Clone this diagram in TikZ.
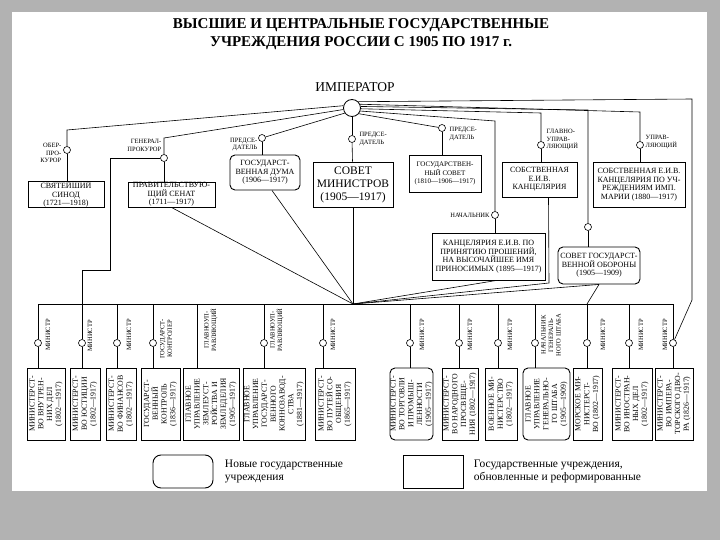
\documentclass[tikz,border=0pt]{standalone}
\usepackage{fontspec}
\setmainfont{Liberation Serif}
\usetikzlibrary{calc,positioning}

\tikzset{
  box/.style={draw, line width=0.9pt, align=center, inner sep=0.5pt, font=\fontsize{8}{8.5}\selectfont},
  newbox/.style={box, rounded corners=5pt},
  vbox/.style={box, rotate=90, minimum width=72pt, font=\fontsize{7.8}{8.8}\selectfont},
  post/.style={circle, draw, fill=white, line width=0.6pt, inner sep=0pt, minimum size=7pt},
  lab/.style={align=center, inner sep=0.5pt, font=\fontsize{6.5}{7.5}\selectfont},
  vlab/.style={lab, rotate=90},
  link/.style={line width=0.6pt},
}

\begin{document}
\begin{tikzpicture}[x=1pt,y=-1pt]
		%%%%% START %%%%%
		\useasboundingbox (0,0) rectangle (720,540);
		\fill[black!30] (0,0) rectangle (12,540);
		\fill[black!30] (707,0) rectangle (720,540);
		\fill[black!30] (0,0) rectangle (720,12);
		\fill[black!30] (0,491) rectangle (720,540);
		
		\node[font=\fontsize{15}{18.5}\selectfont\bfseries, align=center] (title) at (361,34) {ВЫСШИЕ И ЦЕНТРАЛЬНЫЕ ГОСУДАРСТВЕННЫЕ\\УЧРЕЖДЕНИЯ РОССИИ С 1905 ПО 1917 г.};
		\node[font=\fontsize{13.5}{15}\selectfont] (imp) at (355,87) {ИМПЕРАТОР};
		\node[circle, draw, line width=0.8pt, minimum size=17pt, inner sep=0pt] (emp) at (352,108) {};
		
		% upper row
		\node[box, minimum width=76pt, minimum height=25pt] (syn) at (66,194.5) {СВЯТЕЙШИЙ\\СИНОД\\(1721—1918)};
		\node[box, minimum width=87pt, minimum height=25pt] (sen) at (171.5,194.5) {ПРАВИТЕЛЬСТВУЮ-\\ЩИЙ СЕНАТ\\(1711—1917)};
		\node[newbox, minimum width=70pt, minimum height=35pt] (duma) at (265,172.5) {ГОСУДАРСТ-\\ВЕННАЯ ДУМА\\(1906—1917)};
		\node[box, minimum width=80pt, minimum height=45pt, font=\fontsize{11.5}{13}\selectfont] (sovmin) at (353,184.5) {СОВЕТ\\МИНИСТРОВ\\(1905—1917)};
		\node[box, minimum width=72pt, minimum height=37pt, font=\fontsize{7}{8.5}\selectfont] (gossov) at (445,173.5) {ГОСУДАРСТВЕН-\\НЫЙ СОВЕТ\\(1810—1906—1917)};
		\node[box, minimum width=75pt, minimum height=35pt] (sobk) at (539.5,179.5) {СОБСТВЕННАЯ\\Е.И.В.\\КАНЦЕЛЯРИЯ};
		\node[box, minimum width=92pt, minimum height=45pt] (mar) at (639,184.5) {СОБСТВЕННАЯ Е.И.В.\\КАНЦЕЛЯРИЯ ПО УЧ-\\РЕЖДЕНИЯМ ИМП.\\МАРИИ (1880—1917)};
		\node[box, minimum width=113pt, minimum height=47pt] (kanpr) at (488.5,256.5) {КАНЦЕЛЯРИЯ Е.И.В. ПО\\ПРИНЯТИЮ ПРОШЕНИЙ,\\НА ВЫСОЧАЙШЕЕ ИМЯ\\ПРИНОСИМЫХ (1895—1917)};
		\node[newbox, minimum width=82pt, minimum height=37pt] (sovob) at (599,265.5) {СОВЕТ ГОСУДАРСТ-\\ВЕННОЙ ОБОРОНЫ\\(1905—1909)};
		
		\node[post] (ob) at (67,150) {};
		\node[post] (gp) at (164,158) {};
		\node[post] (dum) at (262,138) {};
		\node[post] (sm) at (352,139) {};
		\node[post] (gs) at (442,128) {};
		\node[post] (nach) at (495,215) {};
		\node[post] (gu) at (541,145) {};
		\node[post] (so) at (588,227) {};
		\node[post] (up) at (640,145) {};
		
		\node[lab, align=right, anchor=east] (lob) at (62,153) {ОБЕР-\\ПРО-\\КУРОР};
		\node[lab, align=right, anchor=east] (lgp) at (162,145.5) {ГЕНЕРАЛ-\\ПРОКУРОР};
		\node[lab, align=right, anchor=east] (ldum) at (258,144.5) {ПРЕДСЕ-\\ДАТЕЛЬ};
		\node[lab, align=left, right=3pt of sm] (lsm) {ПРЕДСЕ-\\ДАТЕЛЬ};
		\node[lab, align=left, anchor=west] (lgs) at (449,134) {ПРЕДСЕ-\\ДАТЕЛЬ};
		\node[lab, left=1pt of nach] (lnach) {НАЧАЛЬНИК};
		\node[lab, align=left, anchor=west] (lgu) at (546,140) {ГЛАВНО-\\УПРАВ-\\ЛЯЮЩИЙ};
		\node[lab, align=left, anchor=west] (lup) at (645,142) {УПРАВ-\\ЛЯЮЩИЙ};
		
		% lines from the emperor
		\draw[link] (emp.165) -- (67,130) -- (ob);
		\draw[link] (ob) -- (ob |- syn.north);
		\draw[link] (emp.190) -- (164,138) -- (gp);
		\draw[link] (gp) -- (gp |- sen.north);
		\draw[link] (emp.215) -- (dum);
		\draw[link] (dum) -- (dum |- duma.north);
		\draw[link] (emp) -- (sm);
		\draw[link] (sm) -- (sovmin);
		\draw[link] (emp.-40) -- (gs);
		\draw[link] (gs) -- (gs |- gossov.north);
		\draw[link] (emp.-20) -- (495,121) -- (nach);
		\draw[link] (nach) -- (nach |- kanpr.north);
		\draw[link] (emp.-5) -- (541,113) -- (gu);
		\draw[link] (gu) -- (gu |- sobk.north);
		\draw[link] (emp.10) -- (588,110) -- (so);
		\draw[link] (so) -- (so |- sovob.north);
		\draw[link] (emp.25) -- (640,112) -- (up);
		\draw[link] (up) -- (up |- mar.north);
		
		% ministries
		\node[vbox, minimum height=38pt] (m1) at (46,404) {МИНИСТЕРСТ-\\ВО ВНУТРЕН-\\НИХ ДЕЛ\\(1802—1917)};
		\node[vbox, minimum height=30pt] (m2) at (85,404) {МИНИСТЕРСТ-\\ВО ЮСТИЦИИ\\(1802—1917)};
		\node[vbox, minimum height=30pt] (m3) at (121,404) {МИНИСТЕРСТ-\\ВО ФИНАНСОВ\\(1802—1917)};
		\node[vbox, minimum height=39pt] (m4) at (160.5,404) {ГОСУДАРСТ-\\ВЕННЫЙ\\КОНТРОЛЬ\\(1836—1917)};
		\node[vbox, minimum height=56pt] (m5) at (211,404) {ГЛАВНОЕ\\УПРАВЛЕНИЕ\\ЗЕМЛЕУСТ-\\РОЙСТВА И\\ЗЕМЛЕДЕЛИЯ\\(1905—1917)};
		\node[vbox, minimum height=62pt] (m6) at (274,404) {ГЛАВНОЕ\\УПРАВЛЕНИЕ\\ГОСУДАРСТ-\\ВЕННОГО\\КОННОЗАВОД-\\СТВА\\(1881—1917)};
		\node[vbox, minimum height=40pt] (m7) at (335,404) {МИНИСТЕРСТ-\\ВО ПУТЕЙ СО-\\ОБЩЕНИЯ\\(1865—1917)};
		\node[vbox, rounded corners=5pt, minimum height=43pt] (m8) at (411.5,404) {МИНИСТЕРСТ-\\ВО ТОРГОВЛИ\\И ПРОМЫШ-\\ЛЕННОСТИ\\(1905—1917)};
		\node[vbox, minimum height=36pt] (m9) at (460,404) {МИНИСТЕРСТ-\\ВО НАРОДНОГО\\ПРОСВЕЩЕ-\\НИЯ (1802—1917)};
		\node[vbox, minimum height=32pt] (m10) at (501,404) {ВОЕННОЕ МИ-\\НИСТЕРСТВО\\(1802—1917)};
		\node[vbox, rounded corners=5pt, minimum height=47pt] (m11) at (546.5,404) {ГЛАВНОЕ\\УПРАВЛЕНИЕ\\ГЕНЕРАЛЬНО-\\ГО ШТАБА\\(1905—1909)};
		\node[vbox, minimum height=29pt] (m12) at (587.5,404) {МОРСКОЕ МИ-\\НИСТЕРСТ-\\ВО (1802—1917)};
		\node[vbox, minimum height=40pt] (m13) at (632,404) {МИНИСТЕРСТ-\\ВО ИНОСТРАН-\\НЫХ ДЕЛ\\(1802—1917)};
		\node[vbox, minimum height=38pt] (m14) at (674,404) {МИНИСТЕРСТ-\\ВО ИМПЕРА-\\ТОРСКОГО ДВО-\\РА (1826—1917)};
		
		\node[post] (p1) at (38,343) {};
		\node[post] (p2) at (82,343) {};
		\node[post] (p3) at (117,343) {};
		\node[post] (p4) at (153,343) {};
		\node[post] (p6) at (264,343) {};
		\node[post] (p7) at (323,343) {};
		\node[post] (p8) at (410,343) {};
		\node[post] (p9) at (459,343) {};
		\node[post] (p10) at (498,343) {};
		\node[post] (p11) at (535,343) {};
		\node[post] (p12) at (587,343) {};
		\node[post] (p13) at (629,343) {};
		\node[post] (p14) at (673,343) {};
		
		\node[vlab] at (48,335) {МИНИСТР};
		\node[vlab] at (90,336) {МИНИСТР};
		\node[vlab] at (129,335) {МИНИСТР};
		\node[vlab] at (166,339) {ГОСУДАРСТ-\\КОНТРОЛЕР};
		\node[vlab] at (211,330) {ГЛАВНОУП-\\РАВЛЯЮЩИЙ};
		\node[vlab] at (277,330) {ГЛАВНОУП-\\РАВЛЯЮЩИЙ};
		\node[vlab] at (333,335) {МИНИСТР};
		\node[vlab] at (422,335) {МИНИСТР};
		\node[vlab] at (470,335) {МИНИСТР};
		\node[vlab] at (510,335) {МИНИСТР};
		\node[vlab] at (551,335) {НАЧАЛЬНИК\\ГЕНЕРАЛЬ-\\НОГО ШТАБА};
		\node[vlab] at (603,335) {МИНИСТР};
		\node[vlab] at (641,335) {МИНИСТР};
		\node[vlab] at (665,335) {МИНИСТР};
		
		% bus and drops
		\coordinate (bl) at (38,304);
		\coordinate (br) at (673,304);
		\coordinate (c) at (353,304);
		\coordinate (d5) at (197,304);
		\draw[link] (bl) -- (br);
		\draw[link] (bl) -- (p1) -- (p1 |- m1.east);
		\draw[link] (p2 |- bl) -- (p2) -- (p2 |- m2.east);
		\draw[link] (p3 |- bl) -- (p3) -- (p3 |- m3.east);
		\draw[link] (p4 |- bl) -- (p4) -- (p4 |- m4.east);
		\draw[link] (d5) -- (d5 |- m5.east);
		\draw[link] (p6 |- bl) -- (p6) -- (p6 |- m6.east);
		\draw[link] (p7 |- bl) -- (p7) -- (p7 |- m7.east);
		\draw[link] (p8 |- bl) -- (p8) -- (p8 |- m8.east);
		\draw[link] (p9 |- bl) -- (p9) -- (p9 |- m9.east);
		\draw[link] (p10 |- bl) -- (p10) -- (p10 |- m10.east);
		\draw[link] (p11 |- bl) -- (p11) -- (p11 |- m11.east);
		\draw[link] (p12 |- bl) -- (p12) -- (p12 |- m12.east);
		\draw[link] (p13 |- bl) -- (p13) -- (p13 |- m13.east);
		\draw[link] (br) -- (p14) -- (p14 |- m14.east);
		
		% converging lines
		\draw[link] (gp) -- (110,158) -- (110,270) -- (82,270) -- (p2 |- bl);
		\draw[link] (sen.south) -- (c);
		\draw[link] ($(duma.south)+(7,0)$) -- (c);
		\draw[link] (sovmin) -- (c);
		\draw[link] ($(kanpr.south)+(8,0)$) -- (c);
		\draw[link] ($(sobk.south)+(9,0)$) -- (549,283) -- (c);
		\draw[link] (sovob.south) -- (c);
		\draw[link] (sovob.south) -- (p12 |- bl);
		\draw[link] (emp.45) -- (692,99) -- (692,300) -- (p14);
		
		% legend
		\node[newbox, rounded corners=8pt, minimum width=60pt, minimum height=33pt] (lnew) at (183,471.5) {};
		\node[align=left, font=\fontsize{11.5}{13.5}\selectfont, right=8pt of lnew] (tnew) {Новые государственные\\учреждения};
		\node[box, minimum width=60pt, minimum height=33pt] (lold) at (433,471.5) {};
		\node[align=left, font=\fontsize{11.5}{13.5}\selectfont, right=7pt of lold] (told) {Государственные учреждения,\\обновленные и реформированные};
		%%%%% END %%%%%
\end{tikzpicture}
\end{document}
